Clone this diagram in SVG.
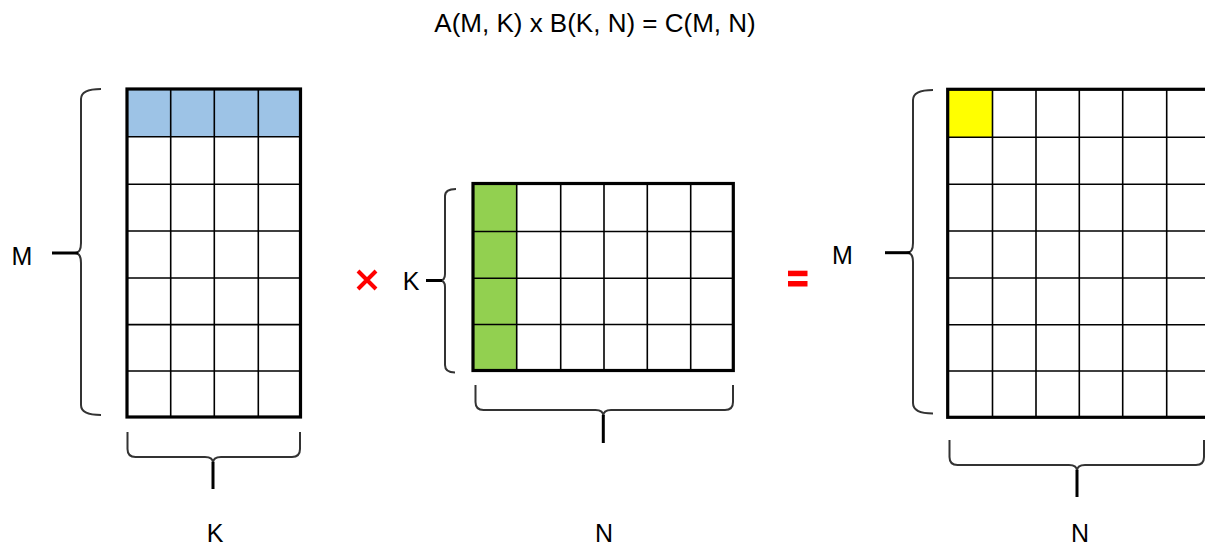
<svg xmlns="http://www.w3.org/2000/svg" width="1205" height="547" viewBox="0 0 1205 547">
<style>
.bg{fill:#ffffff}
.title{font-family:"Liberation Sans",Arial,sans-serif;font-size:26px;fill:#000}
.lbl{font-family:"Liberation Sans",Arial,sans-serif;font-size:25px;fill:#000;text-anchor:middle}
.grid{stroke:#000;stroke-width:1.6;fill:none}
.frame{stroke:#000;stroke-width:3.2;fill:none}
.brace{stroke:#333;stroke-width:2;fill:none;stroke-linejoin:round}
.tick{stroke:#000;stroke-width:3;fill:none}
.op{fill:#ff0000}
</style>
<rect class="bg" x="0" y="0" width="1205" height="547"/>
<text class="title" x="595" y="32" text-anchor="middle">A(M, K) x B(K, N) = C(M, N)</text>

<g id="matrixA">
  <rect x="127" y="89" width="173.5" height="47.5" fill="#9dc3e6"/>
  <path class="grid" d="M170.7,89V417M214.3,89V417M258.3,89V417M127,136.8H300.5M127,184.2H300.5M127,231H300.5M127,278H300.5M127,324.6H300.5M127,371H300.5"/>
  <rect class="frame" x="127" y="89" width="173.5" height="328"/>
</g>

<g id="matrixB">
  <rect x="473" y="183.5" width="43.7" height="187" fill="#92d050"/>
  <path class="grid" d="M516.7,183.5V370.5M560.7,183.5V370.5M604,183.5V370.5M647.3,183.5V370.5M690.7,183.5V370.5M473,231.5H733.3M473,278.2H733.3M473,324.5H733.3"/>
  <rect class="frame" x="473" y="183.5" width="260.3" height="187"/>
</g>

<g id="matrixC">
  <rect x="947.7" y="89.3" width="44.8" height="47.7" fill="#ffff00"/>
  <path class="grid" d="M992.5,89.3V417.3M1036,89.3V417.3M1079.3,89.3V417.3M1122.7,89.3V417.3M1166.7,89.3V417.3M947.7,137.2H1212M947.7,184.3H1212M947.7,231H1212M947.7,278H1212M947.7,324.8H1212M947.7,371H1212"/>
  <rect class="frame" x="947.7" y="89.3" width="262" height="328"/>
</g>

<g id="times">
  <path d="M358,271L376,289M376,271L358,289" stroke="#ff0000" stroke-width="4" fill="none"/>
</g>
<g id="equals">
  <rect class="op" x="788" y="270.7" width="19.5" height="5.5"/>
  <rect class="op" x="788" y="281" width="19.5" height="5.5"/>
</g>

<g id="connectors">
  <path class="brace" d="M101,89Q81,89 81,99L81,243Q81,253 75,253Q81,253 81,263L81,405Q81,415 101,415"/>
  <path class="tick" d="M52,253H78"/>
  <path class="brace" d="M127.5,432L127.5,449Q127.5,457 135.5,457L205,457Q213,457 213,463Q213,457 221,457L292,457Q300,457 300,449L300,432"/>
  <path class="tick" d="M213,462V489"/>
  <path class="brace" d="M456,189Q445,189 445,196L445,274Q445,280.5 440,280.5Q445,280.5 445,287L445,365Q445,372.5 455,372.5"/>
  <path class="tick" d="M426,280.5H442"/>
  <path class="brace" d="M475.5,385L475.5,402Q475.5,410 483.5,410L595.5,410Q603.3,410 603.3,416Q603.3,410 611,410L725,410Q733,410 733,402L733,385"/>
  <path class="tick" d="M603.3,415V443"/>
  <path class="brace" d="M933,90Q913,90 913,100L913,243Q913,252.7 907,252.7Q913,252.7 913,262L913,403Q913,413.5 933,413.5"/>
  <path class="tick" d="M885,252.7H910"/>
  <path class="brace" d="M949.5,440L949.5,457Q949.5,465 957.5,465L1069,465Q1077,465 1077,471Q1077,465 1085,465L1196,465Q1204,465 1204,457L1204,440"/>
  <path class="tick" d="M1077,470V497"/>
</g>

<g id="labels">
  <text class="lbl" x="22" y="265">M</text>
  <text class="lbl" x="215" y="542">K</text>
  <text class="lbl" x="411" y="290">K</text>
  <text class="lbl" x="604" y="542">N</text>
  <text class="lbl" x="842.5" y="264">M</text>
  <text class="lbl" x="1080" y="542">N</text>
</g>
</svg>
